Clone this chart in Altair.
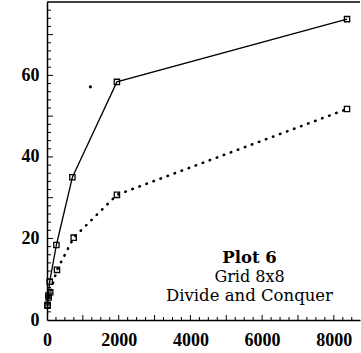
import altair as alt
import pandas as pd

# --- data ---
solid_x = [15, 40, 75, 262, 708, 1950, 8368]
solid_y = [3.5, 6.0, 9.4, 18.4, 35.0, 58.4, 73.8]
dotted_x = [15, 45, 90, 279, 745, 1950, 8368]
dotted_y = [3.7, 5.5, 6.8, 12.3, 20.2, 30.7, 51.75]
stray_x = [1210]
stray_y = [57.2]

x_labels = [0, 2000, 4000, 6000, 8000]
y_labels = [0, 20, 40, 60]
x_minor = [v for v in range(250, 8731, 250) if v % 1000 != 0]
x_major = list(range(1000, 8731, 1000))
y_minor = [v for v in range(2, 78, 2) if v % 10 != 0]
y_major = list(range(10, 78, 10))
notes = ["Plot 6", "Grid 8x8", "Divide and Conquer"]

W, H = 313, 318
FONT = "Liberation Serif"
NOTE_FONT = "DejaVu Serif"

solid = pd.DataFrame({"x": solid_x, "y": solid_y})
dotted = pd.DataFrame({"x": dotted_x, "y": dotted_y})
stray = pd.DataFrame({"x": stray_x, "y": stray_y})

xs = alt.Scale(domain=[0, 8730], nice=False, zero=False)
ys = alt.Scale(domain=[0, 78], nice=False, zero=False)

xaxis = alt.Axis(values=x_labels, ticks=False, grid=False, domainColor="black",
                 domainWidth=1.5, labelFont=FONT, labelFontSize=18, format="d",
                 labelFontWeight="bold", labelColor="black", labelPadding=11,
                 title=None, labelFlush=False)
yaxis = alt.Axis(values=y_labels, ticks=False, grid=False, domainColor="black",
                 domainWidth=1.5, labelFont=FONT, labelFontSize=18, format="d",
                 labelFontWeight="bold", labelColor="black", labelPadding=8,
                 title=None)

X = alt.X("x:Q", scale=xs, title=None)
Y = alt.Y("y:Q", scale=ys, title=None)

solid_line = alt.Chart(solid).mark_line(color="black", strokeWidth=1.3).encode(
    x=alt.X("x:Q", scale=xs, axis=xaxis),
    y=alt.Y("y:Q", scale=ys, axis=yaxis),
)
solid_pts = alt.Chart(solid).mark_point(shape="square", filled=False, color="black",
                                        size=28, strokeWidth=1.3, opacity=1).encode(x=X, y=Y)

dotted_line = alt.Chart(dotted).mark_line(color="black", strokeWidth=2.6,
                                          strokeDash=[0.5, 7], strokeCap="round").encode(x=X, y=Y)
dotted_pts = alt.Chart(dotted).mark_point(shape="square", filled=False, color="black",
                                          size=28, strokeWidth=1.3, opacity=1).encode(x=X, y=Y)

stray_pt = alt.Chart(stray).mark_circle(color="black", size=10, opacity=1).encode(x=X, y=Y)

def yticks(vals, length):
    return alt.Chart(pd.DataFrame({"y": vals})).mark_rule(color="black", strokeWidth=1).encode(
        y=Y, x=alt.value(0), x2=alt.value(length))

def xticks(vals, length):
    return alt.Chart(pd.DataFrame({"x": vals})).mark_rule(color="black", strokeWidth=1).encode(
        x=X, y=alt.value(H), y2=alt.value(H - length))

top_border = alt.Chart(pd.DataFrame({"a": [0]})).mark_rule(color="black", strokeWidth=1.5).encode(
    y=alt.value(0), x=alt.value(0), x2=alt.value(W))

def note(txt, y, bold, size):
    return alt.Chart(pd.DataFrame({"a": [0]})).mark_text(
        text=txt, font=NOTE_FONT, fontSize=size, fontWeight="bold" if bold else "normal",
        color="black", align="center", baseline="alphabetic").encode(
        x=alt.value(202.5), y=alt.value(y))

chart = alt.layer(
    solid_line, dotted_line, solid_pts, dotted_pts, stray_pt,
    yticks(y_minor, 4), yticks(y_major, 6), xticks(x_minor, 3), xticks(x_major, 5),
    top_border,
    note(notes[0], 261, True, 16.5), note(notes[1], 280, False, 16),
    note(notes[2], 299, False, 16.5),
).properties(
    width=W, height=H,
    padding={"left": 47, "top": 2, "right": 1, "bottom": 33},
    autosize=alt.AutoSizeParams(type="none"),
    background="white",
).configure_view(stroke=None)

chart.save("out.html", embed_options={"renderer": "svg", "actions": False})
